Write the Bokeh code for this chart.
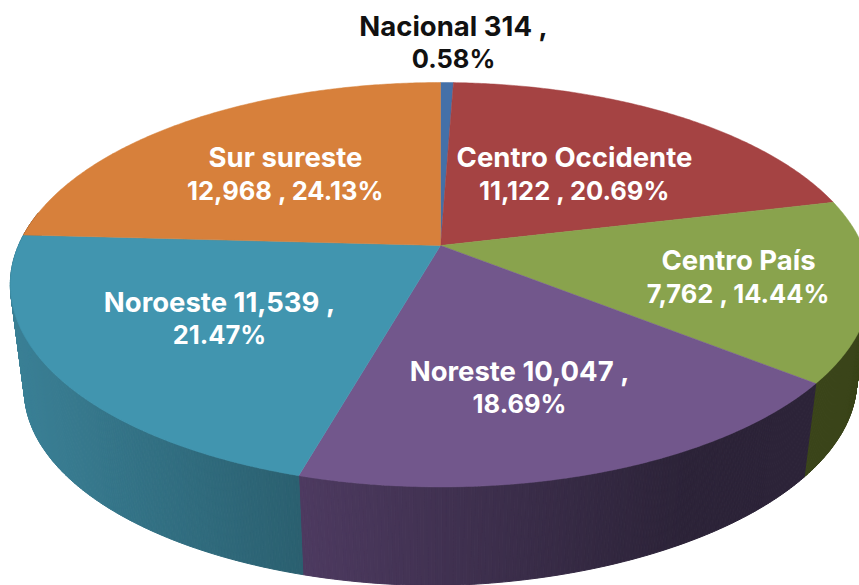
import numpy as np
from bokeh.plotting import figure
from bokeh.models import Range1d, ColumnDataSource
from bokeh.core.properties import value
from bokeh.embed import file_html
from bokeh.resources import INLINE

# ---- data, clockwise from twelve o'clock
categories = ["Nacional", "Centro Occidente", "Centro País", "Noreste", "Noroeste", "Sur sureste"]
amounts = [314, 11122, 7762, 10047, 11539, 12968]
percents = ["0.58%", "20.69%", "14.44%", "18.69%", "21.47%", "24.13%"]
# ---- styles and layout
top_colors = ["#4470A8", "#A54343", "#89A34D", "#72578C", "#4195AF", "#D7803B"]
side_left = ["#2A4468", "#6A2A2A", "#3A4419", "#4D3A60", "#3A8096", "#8A5226"]
side_right = ["#2A4468", "#6A2A2A", "#3A4419", "#2C2338", "#2B6070", "#8A5226"]
name_on_own_line = [False, True, True, False, False, True]
label_x = [453, 574, 738, 519, 219, 285]
label_y1 = [25.5, 156.5, 259.5, 370.5, 301.5, 156.5]
label_y2 = [57.5, 189.5, 292.5, 402.5, 333.5, 189.5]
label_colors = ["#111111", "white", "white", "white", "white", "white"]

W, H = 859, 585
CX, CY, A, B, K = 440.0, 245.0, 422.0, 194.6, 0.194
A2, B2, D, K2 = 408.0, 188.0, 106.0, 0.197
FONT = "Inter"
NAME_SIZE = "27.5px"
NUM_SIZE = "25.5px"


def top_rim(t):
    X, Y = np.sin(t), np.cos(t)
    w = 1 + K * Y
    return CX + A * X / w, CY - B * Y / w


def bottom_rim(t):
    X, Y = np.sin(t), np.cos(t)
    w = 1 + K2 * Y
    x = CX + A2 * X / w
    y = CY + D - B2 * Y / w
    y = y - np.clip(x - CX, 0, None) * 8.0 / 363.0
    return x, y


def mix(c1, c2, f):
    a = [int(c1[i:i + 2], 16) for i in (1, 3, 5)]
    b = [int(c2[i:i + 2], 16) for i in (1, 3, 5)]
    return "#%02x%02x%02x" % tuple(int(round(p + (q - p) * f)) for p, q in zip(a, b))


share = np.array(amounts, float) / sum(amounts)
edges = np.concatenate([[0.0], np.cumsum(share)]) * 2 * np.pi

p = figure(width=W, height=H, x_range=Range1d(0, W), y_range=Range1d(H, 0),
           output_backend="svg", toolbar_location=None, min_border=0,
           outline_line_color=None, background_fill_color="white",
           border_fill_color="white")
p.axis.visible = False
p.grid.visible = False

# side wall: thin strips, shaded by screen position
xs, ys, cs = [], [], []
vis0, vis1 = np.radians(95), np.radians(280)
for i in range(len(amounts)):
    a0, a1 = max(edges[i], vis0), min(edges[i + 1], vis1)
    if a1 <= a0:
        continue
    n = max(2, int((a1 - a0) / np.radians(0.4)))
    th = np.linspace(a0, a1, n + 1)
    tx, ty = top_rim(th)
    bx, by = bottom_rim(th)
    lo = {3: (303.0, 680.0), 4: (20.0, 300.0)}.get(i, (0.0, 859.0))
    for j in range(n):
        xs.append([tx[j], tx[j + 1], bx[j + 1], bx[j]])
        ys.append([ty[j], ty[j + 1], by[j + 1], by[j]])
        f = np.clip((0.5 * (bx[j] + bx[j + 1]) - lo[0]) / (lo[1] - lo[0]), 0, 1)
        cs.append(mix(side_left[i], side_right[i], f))
p.patches(xs, ys, fill_color=cs, line_color=cs, line_width=1)

# top face
for i in range(len(amounts)):
    th = np.linspace(edges[i], edges[i + 1], max(3, int((edges[i + 1] - edges[i]) / np.radians(0.5))))
    rx, ry = top_rim(th)
    p.patch(np.r_[CX, rx], np.r_[CY, ry], fill_color=top_colors[i], line_color=top_colors[i], line_width=0.5)

# labels: lines that carry a name are set a little larger than purely numeric ones
name_lines, num_lines, name_x, name_y, name_c, num_x, num_y, num_c = [], [], [], [], [], [], [], []
for i, (name, amt, pct, own) in enumerate(zip(categories, amounts, percents, name_on_own_line)):
    first = name if own else f"{name} {amt:,} ,"
    second = f"{amt:,} , {pct}" if own else pct
    name_lines.append(first)
    name_x.append(label_x[i]); name_y.append(label_y1[i]); name_c.append(label_colors[i])
    num_lines.append(second)
    num_x.append(label_x[i]); num_y.append(label_y2[i]); num_c.append(label_colors[i])

for lx, ly, lt, lc, size in ((name_x, name_y, name_lines, name_c, NAME_SIZE),
                             (num_x, num_y, num_lines, num_c, NUM_SIZE)):
    src = ColumnDataSource(dict(x=lx, y=ly, t=lt, c=lc))
    p.text("x", "y", text="t", source=src, text_color="c", text_align="center", text_baseline="middle",
           text_font=value(FONT), text_font_size=value(size), text_font_style="bold")

open("out.html", "w").write(file_html(p, INLINE))
